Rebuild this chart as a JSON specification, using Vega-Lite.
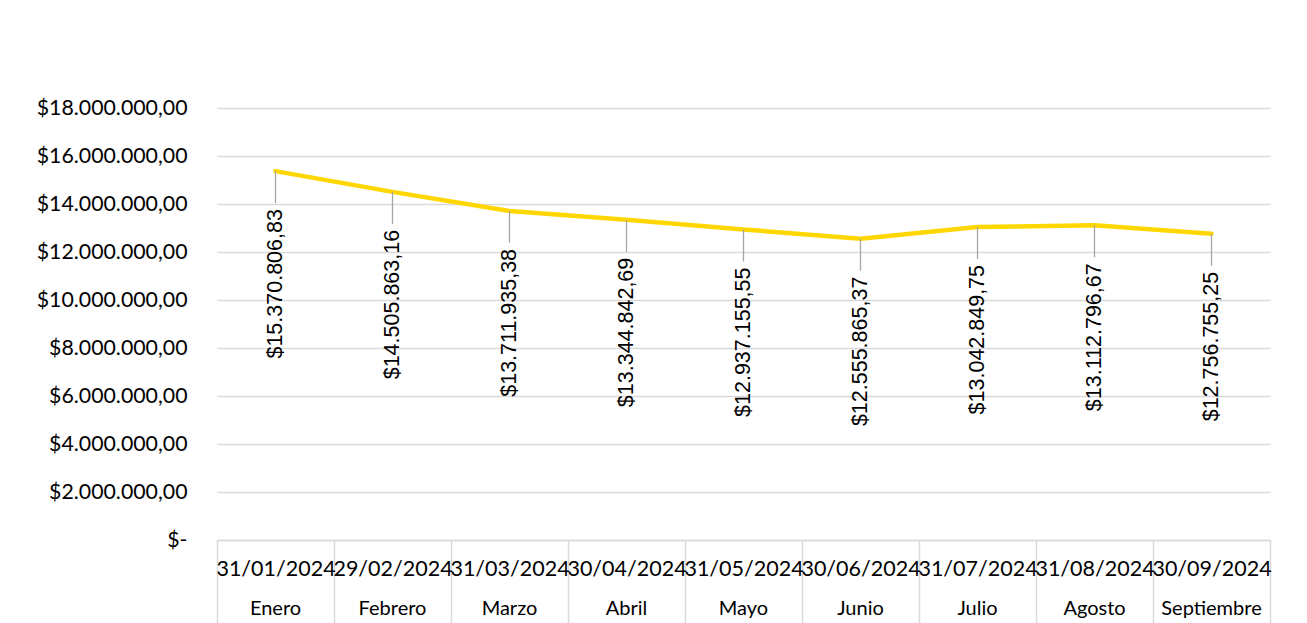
{
  "$schema": "https://vega.github.io/schema/vega-lite/v6.json",
  "width": 1053,
  "height": 432,
  "autosize": {"type": "none"},
  "padding": {"left": 217, "top": 108, "right": 37, "bottom": 83},
  "background": "white",
  "config": {
    "locale": {"number": {"decimal": ",", "thousands": ".", "grouping": [3], "currency": ["$", ""]}},
    "view": {"stroke": null},
    "font": "Lato"
  },
  "data": {
    "values": [
      {"mes": "Enero", "fecha": "31/01/2024", "valor": 15370806.83},
      {"mes": "Febrero", "fecha": "29/02/2024", "valor": 14505863.16},
      {"mes": "Marzo", "fecha": "31/03/2024", "valor": 13711935.38},
      {"mes": "Abril", "fecha": "30/04/2024", "valor": 13344842.69},
      {"mes": "Mayo", "fecha": "31/05/2024", "valor": 12937155.55},
      {"mes": "Junio", "fecha": "30/06/2024", "valor": 12555865.37},
      {"mes": "Julio", "fecha": "31/07/2024", "valor": 13042849.75},
      {"mes": "Agosto", "fecha": "31/08/2024", "valor": 13112796.67},
      {"mes": "Septiembre", "fecha": "30/09/2024", "valor": 12756755.25}
    ]
  },
  "layer": [
    {
      "encoding": {
        "x": {
          "field": "fecha", "type": "nominal", "sort": null, "bandPosition": 0.5,
          "scale": {"type": "band", "paddingInner": 0, "paddingOuter": 0},
          "axis": {
            "orient": "bottom", "title": null, "grid": false, "labelAngle": 0,
            "tickBand": "extent", "tickSize": 85, "tickColor": "#d9d9d9", "tickWidth": 1.5,
            "domainColor": "#d9d9d9", "domainWidth": 1.5,
            "labelFont": "Lato", "labelFontSize": 21.5, "labelColor": "#000000", "labelPadding": -67
          }
        },
        "y": {
          "field": "valor", "type": "quantitative",
          "scale": {"domain": [0, 18000000], "nice": false},
          "axis": {
            "title": null, "grid": true, "gridColor": "#d9d9d9", "gridWidth": 1.5,
            "domain": false, "ticks": false,
            "values": [0, 2000000, 4000000, 6000000, 8000000, 10000000, 12000000, 14000000, 16000000, 18000000],
            "labelExpr": "datum.value === 0 ? '$-\u2002' : format(datum.value, '$,.2f')",
            "labelFont": "Lato", "labelFontSize": 21.3, "labelColor": "#000000", "labelPadding": 30
          }
        }
      },
      "layer": [
        {"mark": {"type": "line", "color": "#FFD700", "strokeWidth": 4.5, "strokeCap": "round", "strokeJoin": "round"}},
        {"mark": {"type": "rule", "color": "#a6a6a6", "strokeWidth": 1.3, "y2Offset": 32}, "encoding": {"y2": {"field": "valor"}}},
        {
          "mark": {"type": "text", "angle": 270, "align": "right", "baseline": "middle", "dx": -38, "font": "Liberation Sans", "fontSize": 21.5, "color": "#000000"},
          "encoding": {"text": {"field": "valor", "type": "quantitative", "format": "$,.2f"}}
        }
      ]
    },
    {
      "mark": {"type": "point", "opacity": 0},
      "encoding": {
        "x": {
          "field": "mes", "type": "nominal", "sort": null,
          "scale": {"type": "band", "paddingInner": 0, "paddingOuter": 0},
          "axis": {
            "orient": "bottom", "title": null, "grid": false, "labelAngle": 0,
            "domain": false, "ticks": false,
            "labelFont": "Lato", "labelFontSize": 20, "labelColor": "#000000", "labelPadding": 58
          }
        },
        "y": {"field": "valor", "type": "quantitative"}
      }
    }
  ],
  "resolve": {"scale": {"x": "independent"}}
}
